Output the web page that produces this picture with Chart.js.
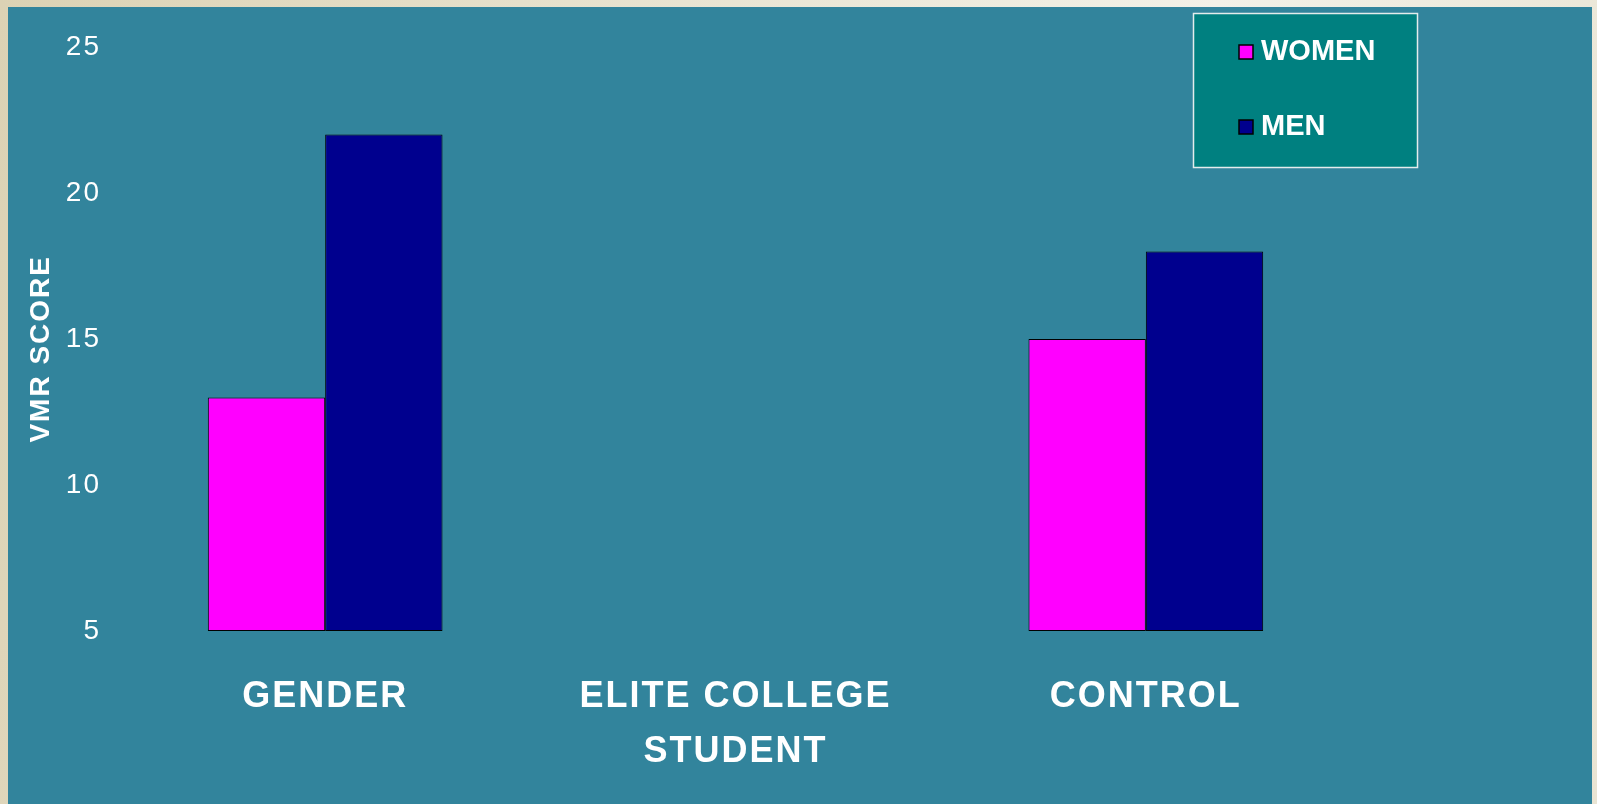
<!DOCTYPE html>
<html>
<head>
<meta charset="utf-8">
<title>VMR Score</title>
<script src="https://cdn.jsdelivr.net/npm/chart.js@4/dist/chart.umd.min.js"></script>
<style>
  html, body { margin: 0; padding: 0; }
  body {
    width: 1597px; height: 804px; overflow: hidden; position: relative;
    background: linear-gradient(100deg, #dcd2b4 0%, #e6e0cb 30%, #f3f1e8 70%, #e9e4d3 100%);
  }
  #wrap { position: absolute; left: 8px; top: 7px; width: 1584px; height: 797px; background: #32849c; }
  canvas { display: block; }
</style>
</head>
<body>
<div id="wrap"><canvas id="chart" width="1584" height="797"></canvas></div>
<script>
const categories = ['GENDER', ['ELITE COLLEGE', 'STUDENT'], 'CONTROL'];
const womenScores = [13, null, 15];
const menScores = [22, null, 18];
const seriesNames = ['WOMEN', 'MEN'];
const yTicks = [5, 10, 15, 20, 25];

const FONT = '"Liberation Sans", Arial, Helvetica, sans-serif';

// Slightly tracked-out lettering for the axis texts
const tracking = {
  id: 'tracking',
  beforeDraw(chart) { chart.ctx.letterSpacing = '2px'; }
};

// Framed legend box in the upper right corner
const boxLegend = {
  id: 'boxLegend',
  afterDraw(chart, args, opts) {
    const ctx = chart.ctx;
    ctx.save();
    ctx.letterSpacing = '0px';
    ctx.fillStyle = opts.fill;
    ctx.fillRect(opts.x, opts.y, opts.w, opts.h);
    ctx.strokeStyle = opts.border;
    ctx.lineWidth = 1.5;
    ctx.strokeRect(opts.x + 0.5, opts.y + 0.5, opts.w - 1, opts.h - 1);
    ctx.font = 'bold 29px ' + FONT;
    ctx.textBaseline = 'middle';
    ctx.textAlign = 'left';
    chart.data.datasets.forEach((ds, i) => {
      const cy = opts.rowY[i];
      ctx.fillStyle = ds.backgroundColor;
      ctx.fillRect(opts.swatchX, cy, 14, 14);
      ctx.strokeStyle = '#000';
      ctx.lineWidth = 1.5;
      ctx.strokeRect(opts.swatchX, cy, 14, 14);
      ctx.fillStyle = '#ffffff';
      ctx.fillText(ds.label, opts.swatchX + 22, cy + 7);
    });
    ctx.restore();
  }
};

new Chart(document.getElementById('chart'), {
  type: 'bar',
  data: {
    labels: categories,
    datasets: [
      { label: seriesNames[0], data: womenScores, backgroundColor: '#ff00ff' },
      { label: seriesNames[1], data: menScores, backgroundColor: '#00008e' }
    ]
  },
  options: {
    responsive: false,
    animation: false,
    events: [],
    layout: { padding: { top: 40, right: 241, bottom: 0, left: 0 } },
    datasets: {
      bar: {
        base: 5,
        borderColor: '#000000',
        borderWidth: 1,
        borderSkipped: false,
        categoryPercentage: 0.572,
        barPercentage: 1.0
      }
    },
    plugins: {
      legend: { display: false },
      tooltip: { enabled: false },
      boxLegend: {
        x: 1185, y: 6, w: 225, h: 155,
        fill: '#008080', border: '#e4ecec',
        swatchX: 1231, rowY: [38, 113]
      }
    },
    scales: {
      x: {
        grid: { display: false, drawTicks: false },
        border: { display: false },
        ticks: {
          color: '#ffffff',
          padding: 39,
          maxRotation: 0,
          autoSkip: false,
          font: { family: FONT, size: 36, weight: 'bold', lineHeight: '55px' }
        },
        afterFit(scale) { scale.height = 173; }
      },
      y: {
        min: 5,
        max: 25,
        grid: { display: false, drawTicks: false },
        border: { display: false },
        afterBuildTicks(scale) { scale.ticks = yTicks.map(v => ({ value: v })); },
        ticks: {
          color: '#ffffff',
          padding: 19,
          font: { family: FONT, size: 28 }
        },
        title: {
          display: true,
          text: 'VMR SCORE  ',
          color: '#ffffff',
          padding: { top: 16, bottom: 0 },
          font: { family: FONT, size: 28, weight: 'bold', lineHeight: 1.2 }
        },
        afterFit(scale) { scale.width = 112; }
      }
    }
  },
  plugins: [tracking, boxLegend]
});
</script>
</body>
</html>
